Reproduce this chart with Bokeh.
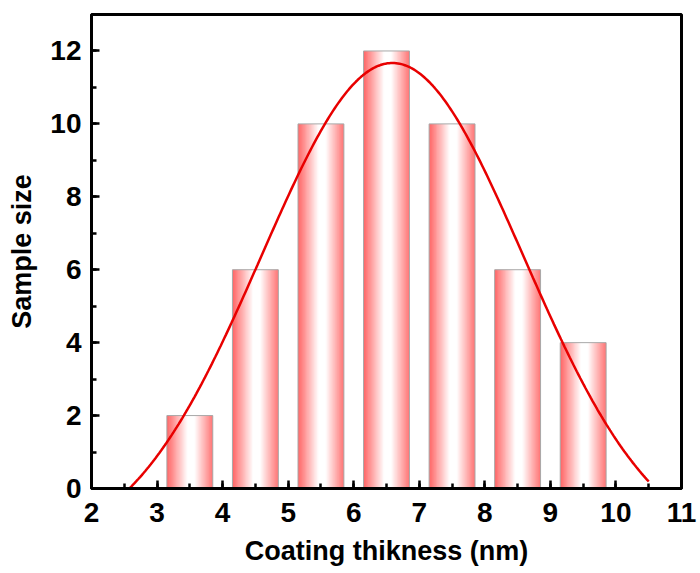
import numpy as np
from bokeh.plotting import figure
from bokeh.models import Range1d, SingleIntervalTicker, ColumnDataSource
from bokeh.embed import file_html
from bokeh.resources import INLINE

# ---- data ----
bin_centers = [3.5, 4.5, 5.5, 6.5, 7.5, 8.5, 9.5]
sample_size = [2, 6, 10, 12, 10, 6, 4]
bar_width = 0.7

# Gaussian fit curve parameters (y = offset + amplitude * exp(-(x-center)^2 / (2 sigma^2)))
fit_center = 6.59
fit_sigma = 2.0
fit_amplitude = 13.47
fit_offset = -1.8
fit_x_start = 2.5
fit_x_end = 10.5

x_label = "Coating thikness (nm)"
y_label = "Sample size"

# ---- figure ----
p = figure(width=700, height=573, x_range=Range1d(2, 11), y_range=Range1d(0, 13),
           output_backend="svg", toolbar_location=None,
           min_border_left=91, min_border_right=19, min_border_top=14, min_border_bottom=85)
p.background_fill_color = "white"
p.border_fill_color = "white"
p.xgrid.visible = False
p.ygrid.visible = False
p.outline_line_color = "black"
p.outline_line_width = 3
p.outline_line_alpha = 1.0

# gradient fill of bars drawn as thin strips
N = 40
edge_rgb = (255, 100, 100)


def shade(t):
    if t < 0.45:
        k = 1 - t / 0.45
    elif t < 0.6:
        k = 0.0
    else:
        k = (t - 0.6) / 0.4 * 0.9
    r = int(round(255 - k * (255 - edge_rgb[0])))
    g = int(round(255 - k * (255 - edge_rgb[1])))
    b = int(round(255 - k * (255 - edge_rgb[2])))
    return "#%02x%02x%02x" % (r, g, b)


lefts, rights, tops, bottoms, colors = [], [], [], [], []
for c, v in zip(bin_centers, sample_size):
    x0 = c - bar_width / 2
    dw = bar_width / N
    for j in range(N):
        l = x0 + j * dw
        r = min(l + dw * 1.6, c + bar_width / 2)
        lefts.append(l)
        rights.append(r)
        tops.append(v)
        bottoms.append(0)
        colors.append(shade((j + 0.5) / N))

strips = ColumnDataSource(dict(left=lefts, right=rights, top=tops, bottom=bottoms, color=colors))
p.quad(left="left", right="right", top="top", bottom="bottom", fill_color="color",
       line_color=None, source=strips)

bars = ColumnDataSource(dict(x=bin_centers, top=sample_size))
p.vbar(x="x", top="top", width=bar_width, bottom=0, fill_color=None,
       line_color="#a8a8a8", line_width=1, source=bars)

# fit curve
xs = np.linspace(fit_x_start, fit_x_end, 300)
ys = fit_offset + fit_amplitude * np.exp(-(xs - fit_center) ** 2 / (2 * fit_sigma ** 2))
p.line(xs, ys, line_color="#e80000", line_width=2.5)

# axes
font = "Liberation Sans"
for ax in (p.xaxis[0], p.yaxis[0]):
    ax.axis_line_width = 3
    ax.axis_line_color = "black"
    ax.major_tick_line_width = 2.5
    ax.minor_tick_line_width = 2.5
    ax.major_tick_in = 8
    ax.major_tick_out = 0
    ax.minor_tick_in = 5
    ax.minor_tick_out = 0
    ax.major_label_text_font = font
    ax.major_label_text_font_style = "bold"
    ax.major_label_text_font_size = "28px"
    ax.major_label_text_color = "black"
    ax.axis_label_text_font = font
    ax.axis_label_text_font_style = "bold"
    ax.axis_label_text_font_size = "27px"
    ax.axis_label_text_color = "black"

p.xaxis[0].ticker = SingleIntervalTicker(interval=1, num_minor_ticks=2)
p.yaxis[0].ticker = SingleIntervalTicker(interval=2, num_minor_ticks=2)
p.xaxis[0].axis_label = x_label
p.yaxis[0].axis_label = y_label
p.xaxis[0].major_label_standoff = 14
p.xaxis[0].axis_label_standoff = 11
p.yaxis[0].major_label_standoff = 10
p.yaxis[0].axis_label_standoff = 10

open("out.html", "w").write(file_html(p, INLINE))
